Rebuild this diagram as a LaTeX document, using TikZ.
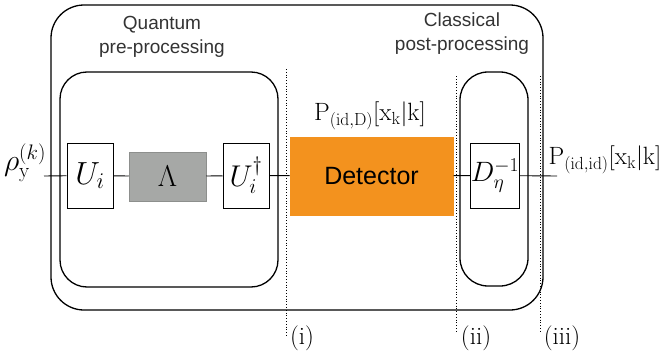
\documentclass[tikz,border=0pt]{standalone}
\usepackage{fix-cm}
\usepackage{amsmath}
\usepackage[no-math]{fontspec}
\setsansfont{Liberation Sans}
\usetikzlibrary{arrows}

\definecolor{lambdagray}{RGB}{166,168,166}
\definecolor{detorange}{RGB}{243,146,30}

\begin{document}
\begin{tikzpicture}[x=1pt,y=-1pt]
      \tikzset { blk/.style = { draw,line width=1pt,inner sep=0pt,minimum width=46pt,minimum height=65pt } }
      \tikzset { edge/.style = { line width=0.9pt } }
      \tikzset { frame/.style = { line width=1.3pt,rounded corners=#1 } }
      \tikzset { cut/.style = { dotted,line width=0.8pt } }
      \tikzset { caption/.style = { font=\sffamily\fontsize{19}{24}\selectfont,align=center,text=black!80 } }
      \tikzset { mlabel/.style = { font=\fontsize{25}{30}\selectfont } }

      \useasboundingbox (0,0) rectangle (665,356);

      % frames
      \draw[frame=33pt] (51,5) rectangle (543,310);
      \draw[frame=27pt] (60,72) rectangle (278,287);
      \draw[frame=28pt] (460,72) rectangle (528,286);

      % cuts
      \draw[cut] (286,69) -- (286,336);
      \draw[cut] (456,76) -- (456,332);
      \draw[cut] (540,76) -- (540,332);

      \node[caption] (qpre) at (162,37) {Quantum\\pre-processing};
      \node[caption] (cpost) at (462,34) {Classical\\post-processing};

      \node[blk] (ui) at (90,175.5) {\fontsize{32}{36}\selectfont$U_i$};
      \node[blk,fill=lambdagray,draw=lambdagray!85!black,line width=0.5pt,minimum width=77pt,minimum height=49pt] (lam) at (167.5,176.5) {\fontsize{30}{34}\selectfont$\Lambda$};
      \node[blk] (uidag) at (246,175.5) {\fontsize{30}{34}\selectfont$U_i^\dagger$};
      \node[blk,fill=detorange,draw=detorange,minimum width=163pt,minimum height=78pt] (det) at (371.5,176) {\sffamily\fontsize{25}{30}\selectfont Detector};
      \node[blk] (dinv) at (495,175.5) {\fontsize{28}{32}\selectfont$D_\eta^{-1}$};

      \coordinate (in) at (44,176);
      \coordinate (out) at (557,176);

      \node[font=\fontsize{30}{34}\selectfont,inner sep=0pt] (rho) at (25,163) {$\rho_{\mathrm{y}}^{(k)}$};
      \node[mlabel] (pdet) at (370,116) {$\mathrm{P}_{(\mathrm{id,D})}[\mathrm{x_k}|\mathrm{k}]$};
      \node[mlabel] (pid) at (605,160) {$\mathrm{P}_{(\mathrm{id,id})}[\mathrm{x_k}|\mathrm{k}]$};

      \draw[edge] (in) to (ui);
      \draw[edge] (ui) to (lam);
      \draw[edge] (lam) to (uidag);
      \draw[edge] (uidag) to (det);
      \draw[edge] (det) to (dinv);
      \draw[edge] (dinv) to (out);

      \node[mlabel] (ci) at (302,338) {(i)};
      \node[mlabel] (cii) at (476,338) {(ii)};
      \node[mlabel] (ciii) at (562,338) {(iii)};

    \end{tikzpicture}
\end{document}
